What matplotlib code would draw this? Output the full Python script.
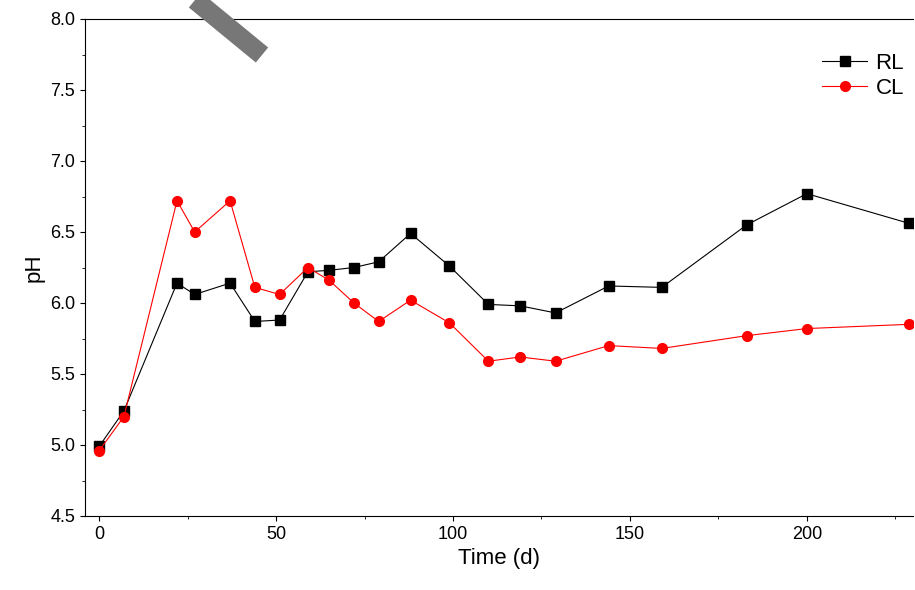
import matplotlib
matplotlib.use("Agg")
import matplotlib.pyplot as plt
from matplotlib.ticker import MultipleLocator

plt.rcParams['font.family'] = ['Liberation Sans', 'DejaVu Sans']

days = [0, 7, 22, 27, 37, 44, 51, 59, 65, 72, 79, 88, 99, 110, 119, 129, 144, 159, 183, 200, 229]
ph_rl = [4.99, 5.24, 6.14, 6.06, 6.14, 5.87, 5.88, 6.22, 6.23, 6.25, 6.29, 6.49, 6.26,
         5.99, 5.98, 5.93, 6.12, 6.11, 6.55, 6.77, 6.56]
ph_cl = [4.96, 5.20, 6.72, 6.50, 6.72, 6.11, 6.06, 6.25, 6.16, 6.00, 5.87, 6.02, 5.86,
         5.59, 5.62, 5.59, 5.70, 5.68, 5.77, 5.82, 5.85]

fig = plt.figure(figsize=(9.15, 5.9), dpi=100)
ax = fig.add_axes([85 / 915, 1 - 516 / 590, 828 / 915, 497 / 590])

ax.plot(days, ph_rl, color='black', marker='s', markersize=7, linewidth=0.8, label='RL')
ax.plot(days, ph_cl, color='red', marker='o', markersize=7, linewidth=0.8, label='CL')

ax.set_xlim(-4, 230)
ax.set_ylim(4.5, 8.0)
ax.xaxis.set_major_locator(MultipleLocator(50))
ax.xaxis.set_minor_locator(MultipleLocator(25))
ax.yaxis.set_major_locator(MultipleLocator(0.5))
ax.yaxis.set_minor_locator(MultipleLocator(0.25))
ax.yaxis.set_major_formatter(plt.FormatStrFormatter('%.1f'))
ax.tick_params(labelsize=13)
ax.spines['right'].set_visible(False)
ax.set_xlabel('Time (d)', fontsize=16)
ax.set_ylabel('pH', fontsize=16)
ax.legend(loc='upper right', frameon=False, fontsize=16, handlelength=2.0,
          handletextpad=0.4, labelspacing=0.2, borderaxespad=0.0,
          bbox_to_anchor=(1.0, 0.95))

# grey diagonal stripe at the top
fig.add_artist(plt.Line2D([195 / 915, 262 / 915], [1.0, 1 - 55 / 590],
                          color='#777777', linewidth=14, solid_capstyle='butt'))

fig.savefig('out.png', dpi=100)
